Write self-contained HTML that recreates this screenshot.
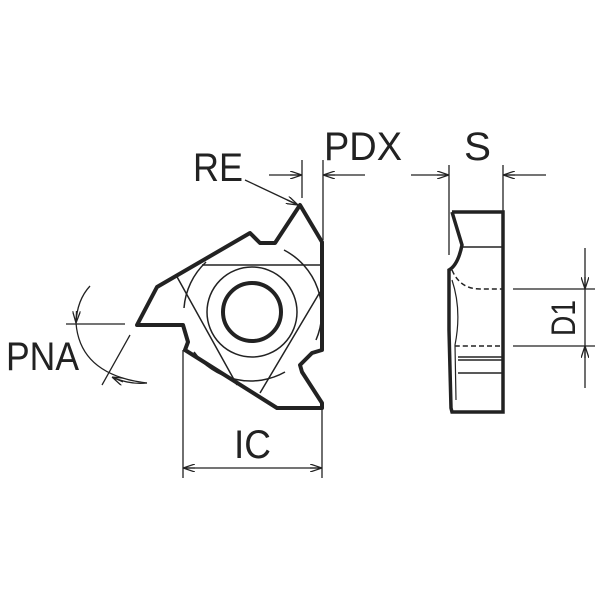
<!DOCTYPE html>
<html><head><style>body{margin:0;background:#fff}svg{display:block}text{font-family:"Liberation Sans",sans-serif;fill:#222}</style></head>
<body>
<svg width="600" height="600" viewBox="0 0 600 600" xmlns="http://www.w3.org/2000/svg">
<defs>
<marker id="a" viewBox="0 0 12 8" refX="12" refY="4" markerWidth="12" markerHeight="8" markerUnits="userSpaceOnUse" orient="auto"><path d="M0,0 L12,4 L0,8 M0,4 L12,4" fill="none" stroke="#222" stroke-width="1.3"/></marker>
</defs>
<g stroke="#222" fill="none">
<!-- insert outline -->
<path d="M300,205 L322,242 L322,350 L312,353 L300,365 L302,372 L322,403 L322,408 L277,408 L185,350 L188,342 L183,325 L137,325 L157,287 L250,233 L260,243 L275,243 Z" stroke-width="4" stroke-linejoin="round"/>
<!-- inner -->
<path d="M202,265 L322,265" stroke-width="1.5"/>
<path d="M176,275 L237,385 M320,292 L260,393" stroke-width="1.5"/>
<path d="M284,250 A70,70 0 0 1 316,340 M285,372 A70,70 0 0 1 194,352 M184,308 A70,70 0 0 1 206,262" stroke-width="1.5"/>
<circle cx="252" cy="312" r="45" stroke-width="1.5"/>
<circle cx="252" cy="312" r="29" stroke-width="4"/>
<!-- side view -->
<path d="M452,212 L503,212 L503,412 L452,412 L451,408 L449,330 L449,270 Q458,265 462,245 L452,212" stroke-width="3.5"/>
<path d="M462,247 L503,247 M458,357 L503,357 M458,360 L503,360 M458,373 L503,373" stroke-width="1.5"/>
<path d="M452,270 Q460,289 480,289 L503,289 M455,346 Q462,346 470,346 L503,346" stroke-width="1.5" stroke-dasharray="5,3"/>
<path d="M452,280 Q462,310 455,345 L456,400" stroke-width="1.2"/>
<!-- D1 -->
<path d="M513,289 L595,289 M513,346 L595,346" stroke-width="1.3"/>
<path d="M585,248 L585,289" stroke-width="1.3" marker-end="url(#a)"/>
<path d="M585,388 L585,346" stroke-width="1.3" marker-end="url(#a)"/>
<path d="M585,289 L585,346" stroke-width="1.3"/>
<!-- PDX -->
<path d="M302,160 L302,198 M323,160 L323,240" stroke-width="1.3"/>
<path d="M269,175 L302,175" stroke-width="1.3" marker-end="url(#a)"/>
<path d="M365,175 L323,175" stroke-width="1.3" marker-end="url(#a)"/>
<!-- RE leader -->
<path d="M245,180 L298,205" stroke-width="1.3" marker-end="url(#a)"/>
<!-- S -->
<path d="M449,165 L449,255 M503,165 L503,212" stroke-width="1.3"/>
<path d="M411,175 L449,175" stroke-width="1.3" marker-end="url(#a)"/>
<path d="M546,175 L503,175" stroke-width="1.3" marker-end="url(#a)"/>
<!-- IC -->
<path d="M183,350 L183,478 M322,408 L322,478" stroke-width="1.3"/>
<path d="M252,468 L183,468" stroke-width="1.3" marker-end="url(#a)"/>
<path d="M252,468 L322,468" stroke-width="1.3" marker-end="url(#a)"/>
<!-- PNA -->
<path d="M66,324 L125,324 M130,335 L102,385" stroke-width="1.3"/>
<path d="M90,286 Q77,300 76,323" stroke-width="1.3" marker-end="url(#a)"/>
<path d="M76,323 Q80,375 147,383" stroke-width="1.3"/>
<path d="M147,383 Q130,385 112,377" stroke-width="1.3" marker-end="url(#a)"/>
</g>
<text x="193" y="181" font-size="40" textLength="50" lengthAdjust="spacingAndGlyphs">RE</text>
<text x="324" y="160" font-size="40" textLength="78" lengthAdjust="spacingAndGlyphs">PDX</text>
<text x="464" y="160" font-size="40" textLength="27" lengthAdjust="spacingAndGlyphs">S</text>
<text x="6" y="370" font-size="40" textLength="73" lengthAdjust="spacingAndGlyphs">PNA</text>
<text x="234" y="458" font-size="40" textLength="37" lengthAdjust="spacingAndGlyphs">IC</text>
<text transform="translate(575,336) rotate(-90)" font-size="34" textLength="36" lengthAdjust="spacingAndGlyphs">D1</text>
</svg>
</body></html>
